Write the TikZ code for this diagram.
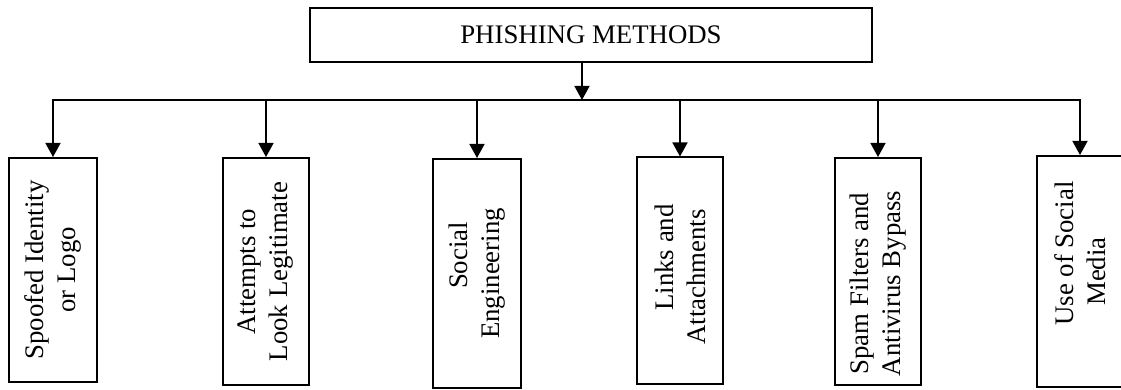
\documentclass[tikz,border=0pt]{standalone}
\usepackage{fontspec}
\setmainfont{Liberation Serif}
\usetikzlibrary{arrows.meta}

% blank space used to nudge a line inside a centred, rotated label
\newcommand{\gap}[1]{\rule{#1}{0pt}}

\begin{document}
\begin{tikzpicture}[x=0.5pt, y=-0.5pt,
  base/.style={draw, line width=1pt, inner sep=0pt,
    font=\fontsize{13.4}{16}\selectfont},
  head/.style={base, minimum width=281pt, minimum height=27pt},
  leaf/.style={base, rotate=90, align=center, minimum height=43pt},
  wire/.style={line width=0.75pt},
  link/.style={wire, -{Triangle[width=7.5pt, length=7pt]}}]

\useasboundingbox (0,0) rectangle (1121,390);

% title box
\node[head] (top) at (591,35) {PHISHING METHODS};

% the six methods, text running bottom to top
\node[leaf, minimum width=112pt, minimum height=44pt] (b1) at (53,270)
  {Spoofed Identity\\or Logo};
\node[leaf, minimum width=113.5pt] (b2) at (266,271.5)
  {Attempts to\\Look Legitimate};
\node[leaf, minimum width=114.5pt, minimum height=44pt] (b3) at (477,273.5)
  {\gap{18pt}Social\\Engineering};
\node[leaf, minimum width=113pt] (b4) at (680,270.5)
  {\gap{13pt}Links and\\Attachments\gap{6.5pt}};
\node[leaf, minimum width=113.5pt] (b5) at (878,271.5)
  {Spam Filters and\gap{12pt}\\Antivirus Bypass\gap{12pt}};
\node[leaf, minimum width=115.5pt] (b6) at (1080,271.5)
  {\gap{18pt}Use of Social\\Media};

% distribution bus
\coordinate (hub) at (582,100);
\draw[link] (top.south -| hub) -- (hub);
\draw[link] (hub) -| (b1.east);
\draw[link] (hub) -| (b6.east);
\foreach \b in {b2,b3,b4,b5}
  \draw[link] (\b.east |- hub) -- (\b.east);
\end{tikzpicture}
\end{document}
